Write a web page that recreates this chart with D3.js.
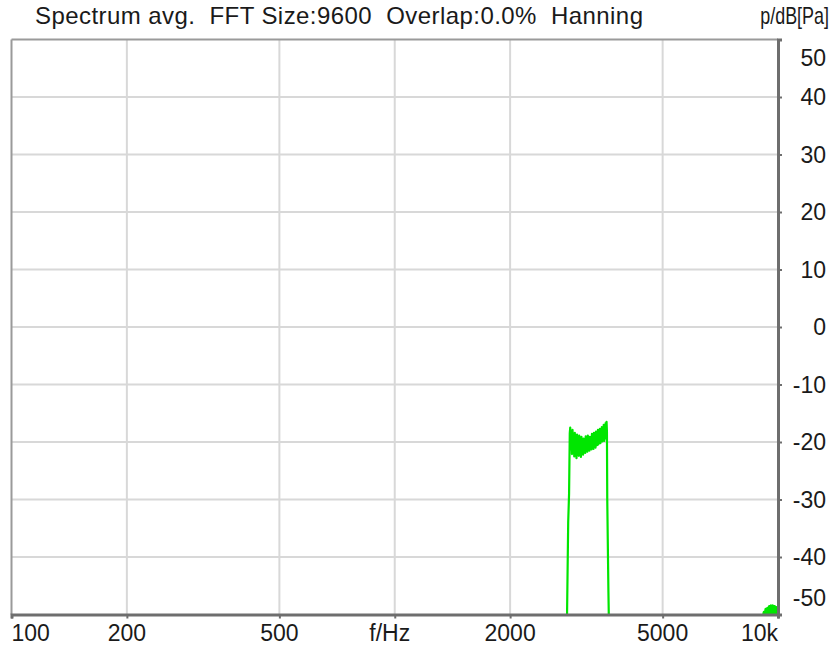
<!DOCTYPE html>
<html>
<head>
<meta charset="utf-8">
<script src="https://cdn.jsdelivr.net/npm/d3@7"></script>
<style>
  html, body { margin: 0; padding: 0; background: #fff; }
  svg { display: block; }
  text { font-family: "Liberation Sans", Arial, sans-serif; fill: #1a1a1a; }
</style>
</head>
<body>
<svg id="chart" width="836" height="650"></svg>
<script>
// ---- data ----
const titleText = "Spectrum avg.  FFT Size:9600  Overlap:0.0%  Hanning";
const yUnitText = "p/dB[Pa]";
const xTicks = [100, 200, 500, 1000, 2000, 5000, 10000];
const xTickLabels = ["100", "200", "500", "f/Hz", "2000", "5000", "10k"];
const yTicks = [50, 40, 30, 20, 10, 0, -10, -20, -30, -40, -50];
const yTickLabels = ["50", "40", "30", "20", "10", "0", "-10", "-20", "-30", "-40", "-50"];

// band of noise around 2.8 - 3.6 kHz
const bandFreqHz = [
  2780, 2815, 2835, 2850, 2862,
  2870, 2880, 2890, 2900, 2910, 2920, 2930, 2940, 2950, 2960,
  2970, 2980, 2990, 3000, 3010, 3020, 3030, 3040, 3050, 3060,
  3070, 3080, 3090, 3100, 3110, 3120, 3130, 3140, 3150, 3160,
  3170, 3180, 3190, 3200, 3210, 3220, 3230, 3240, 3250, 3260,
  3270, 3280, 3290, 3300, 3310, 3320, 3330, 3340, 3350, 3360,
  3370, 3380, 3390, 3400, 3410, 3420, 3430, 3440, 3450, 3460,
  3470, 3480, 3490, 3500, 3510, 3520, 3530, 3540, 3550, 3560,
  3570, 3578,
  3585, 3610, 3622, 3650];
const bandLevelDb = [
  -60, -50.5, -34, -29, -18.5,
  -17.5, -21.3, -18.2, -22.1, -17.9, -20.6, -18.9, -22.5, -18.4, -21.2,
  -19.3, -22.8, -18.7, -21.6, -19.8, -22.4, -18.9, -21.5, -20.0, -22.6,
  -19.1, -21.2, -20.1, -22.2, -19.4, -21.0, -20.2, -21.9, -19.0, -21.4,
  -19.8, -21.7, -18.9, -20.8, -19.6, -21.5, -19.1, -20.7, -19.5, -21.3,
  -18.6, -20.9, -19.3, -21.2, -18.4, -20.4, -19.0, -21.0, -18.2, -20.6,
  -18.8, -20.5, -17.9, -20.4, -18.5, -20.1, -17.7, -20.2, -18.2, -19.9,
  -17.4, -19.9, -17.6, -19.7, -17.0, -19.8, -17.2, -19.4, -16.7, -19.3,
  -16.5, -18.2,
  -30, -46, -52, -60];

// small hump near 10 kHz
const hfFreqHz = [9100, 9150, 9200, 9250, 9300, 9350, 9400, 9450, 9500, 9550, 9600, 9650,
  9700, 9750, 9800, 9850, 9900, 9950, 10000];
const hfLevelDb = [-52, -50.5, -49.6, -50.2, -49.1, -50.0, -48.9, -49.8, -48.6, -49.9, -48.5, -49.7,
  -48.5, -49.8, -48.6, -49.9, -48.8, -50.0, -49.1];

// ---- layout ----
const svg = d3.select("#chart");
const L = 11.5, R = 778, T = 39.5, B = 614.5;

const x = d3.scaleLog().domain([100, 10000]).range([L, R]);
const y = d3.scaleLinear().domain([-50, 50]).range([B, T]);

// grid
svg.append("g").selectAll("line")
  .data(xTicks.filter(d => d > 100 && d < 10000))
  .join("line")
  .attr("x1", d => x(d)).attr("x2", d => x(d))
  .attr("y1", T).attr("y2", B)
  .attr("stroke", "#d8d8d8").attr("stroke-width", 2);

svg.append("g").selectAll("line")
  .data(yTicks.filter(d => d > -50 && d < 50))
  .join("line")
  .attr("x1", L).attr("x2", R)
  .attr("y1", d => y(d)).attr("y2", d => y(d))
  .attr("stroke", "#d8d8d8").attr("stroke-width", 2);

// data
const clipId = "plotclip";
svg.append("clipPath").attr("id", clipId)
  .append("rect").attr("x", L).attr("y", T).attr("width", R - L).attr("height", B - T);

const line = d3.line().x(d => x(d[0])).y(d => y(d[1]));
const gData = svg.append("g").attr("clip-path", `url(#${clipId})`);
gData.append("path")
  .datum(d3.zip(bandFreqHz, bandLevelDb))
  .attr("d", line)
  .attr("fill", "none").attr("stroke", "#00e600").attr("stroke-width", 2.2)
  .attr("stroke-linejoin", "round");
gData.append("path")
  .datum(d3.zip(hfFreqHz, hfLevelDb))
  .attr("d", line)
  .attr("fill", "none").attr("stroke", "#00e600").attr("stroke-width", 3)
  .attr("stroke-linejoin", "round");

// frame: top/left lighter, right/bottom darker axes
svg.append("line").attr("x1", L).attr("x2", R).attr("y1", T).attr("y2", T)
  .attr("stroke", "#9a9a9a").attr("stroke-width", 2);
svg.append("line").attr("x1", L).attr("x2", L).attr("y1", T).attr("y2", B)
  .attr("stroke", "#9a9a9a").attr("stroke-width", 2);

// right axis
const yAxis = d3.axisRight(y).tickValues(yTicks).tickSize(4).tickFormat("");
const gy = svg.append("g").attr("transform", `translate(${R},0)`).call(yAxis);
gy.select(".domain").attr("stroke", "#6e6e6e").attr("stroke-width", 3);
gy.selectAll(".tick line").attr("stroke", "#6e6e6e").attr("stroke-width", 2);

// bottom axis
const xAxis = d3.axisBottom(x).tickValues(xTicks).tickSize(4).tickFormat("");
const gx = svg.append("g").attr("transform", `translate(0,${B})`).call(xAxis);
gx.select(".domain").attr("stroke", "#6e6e6e").attr("stroke-width", 3);
gx.selectAll(".tick line").attr("stroke", "#6e6e6e").attr("stroke-width", 2);

// y labels (right aligned, clamped inside plot height)
svg.append("g").selectAll("text")
  .data(d3.zip(yTicks, yTickLabels))
  .join("text")
  .attr("x", 826)
  .attr("y", d => Math.min(Math.max(y(d[0]), T + 18), B - 17))
  .attr("dy", "0.36em")
  .attr("text-anchor", "end")
  .style("font-size", "23px")
  .text(d => d[1]);

// x labels
svg.append("g").selectAll("text")
  .data(d3.zip(xTicks, xTickLabels))
  .join("text")
  .attr("x", d => d[0] === 100 ? L : d[0] === 10000 ? R : x(d[0]) - (d[1] === "f/Hz" ? 5 : 0))
  .attr("y", 641)
  .attr("text-anchor", d => d[0] === 100 ? "start" : d[0] === 10000 ? "end" : "middle")
  .style("font-size", "23px")
  .text(d => d[1]);

// title and unit
svg.append("text")
  .attr("x", 35).attr("y", 24)
  .style("font-size", "24px")
  .style("white-space", "pre")
  .attr("xml:space", "preserve")
  .attr("textLength", 608)
  .attr("lengthAdjust", "spacing")
  .text(titleText);
svg.append("text")
  .attr("transform", "translate(829,24) scale(0.78,1)")
  .attr("text-anchor", "end")
  .style("font-size", "23px")
  .text(yUnitText);
</script>
</body>
</html>
